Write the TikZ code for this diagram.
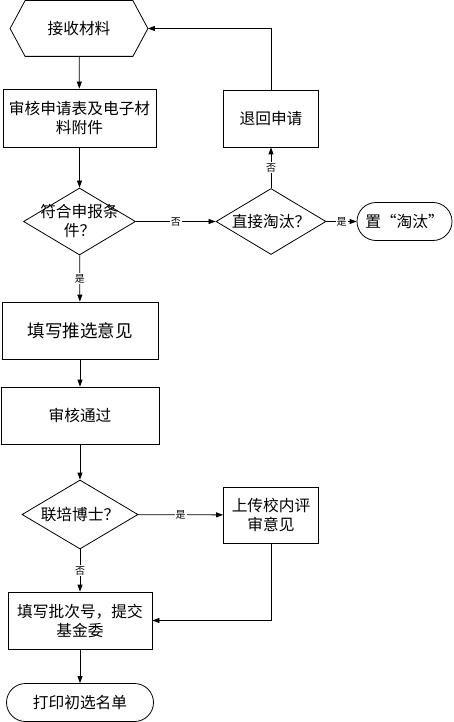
\documentclass[tikz,border=0pt]{standalone}
\usepackage{fontspec}
\setmainfont{Noto Sans CJK SC}
\usetikzlibrary{arrows.meta,shapes.geometric,shapes.misc}
\tikzset{
	box/.style={draw, rectangle, inner sep=0pt, align=center},
	choice/.style={draw, diamond, inner sep=0pt},
	stadium/.style={draw, rounded rectangle, inner sep=0pt},
	flow/.style={-{Triangle[length=7pt,width=5pt]}},
	tag/.style={fill=white, inner sep=1pt, font=\fontsize{10}{12}\selectfont},
}

\begin{document}
\begin{tikzpicture}[x=1pt, y=-1pt, line width=0.8pt, font=\fontsize{15.7}{19}\selectfont]
		%%%%% START %%%%%
		\useasboundingbox (0, 0) rectangle (453, 722);
		
		\node[minimum width=137pt, minimum height=55pt, inner sep=0pt] (recv) at (79, 28.5) {接收材料};
		\draw (recv.west) -- ([xshift=15pt]recv.north west) -- ([xshift=-15pt]recv.north east) -- (recv.east) -- ([xshift=-15pt]recv.south east) -- ([xshift=15pt]recv.south west) -- cycle;
		
		\node[box, minimum width=153pt, minimum height=58pt] (check) at (79.5, 118) {审核申请表及电子材\\料附件};
		\node[choice, minimum width=112pt, minimum height=67pt, label={[align=center]center:符合申报条\\件？}] (cond) at (79.5, 221.5) {};
		\node[choice, minimum width=110pt, minimum height=66pt, label={center:直接淘汰？}] (kill) at (271, 221.5) {};
		\node[stadium, minimum width=95pt, minimum height=38pt] (elim) at (404.5, 221.5) {置“淘汰”};
		\node[box, minimum width=95pt, minimum height=57pt] (back) at (271, 118.5) {退回申请};
		
		\node[box, minimum width=156pt, minimum height=57pt, font=\fontsize{17.5}{21}\selectfont] (fill) at (80, 330.5) {填写推选意见};
		\node[box, minimum width=158pt, minimum height=57pt] (pass) at (80, 415.5) {审核通过};
		\node[choice, minimum width=116pt, minimum height=69pt, label={center:联培博士？}] (joint) at (80, 514.5) {};
		\node[box, minimum width=95pt, minimum height=56pt] (upload) at (271, 515) {上传校内评\\审意见};
		\node[box, minimum width=144pt, minimum height=57pt] (submit) at (80, 620.5) {填写批次号，提交\\基金委};
		\node[stadium, minimum width=147pt, minimum height=38pt] (print) at (80, 702.5) {打印初选名单};
		
		\draw[flow] (recv) -- (check);
		\draw[flow] (check) -- (cond);
		\draw[flow] (cond) -- node[tag] {否} (kill);
		\draw[flow] (kill) -- node[tag] {是} (elim);
		\draw[flow] (kill) -- node[tag] {否} (back);
		\draw[flow] (back.north) |- (recv.east);
		\draw[flow] (cond) -- node[tag] {是} (fill);
		\draw[flow] (fill) -- (pass);
		\draw[flow] (pass) -- (joint);
		\draw[flow] (joint) -- node[tag] {是} (upload);
		\draw[flow] (joint) -- node[tag] {否} (submit);
		\draw[flow] (upload.south) |- (submit.east);
		\draw[flow] (submit) -- (print);
		%%%%% END %%%%%
	\end{tikzpicture}
\end{document}
